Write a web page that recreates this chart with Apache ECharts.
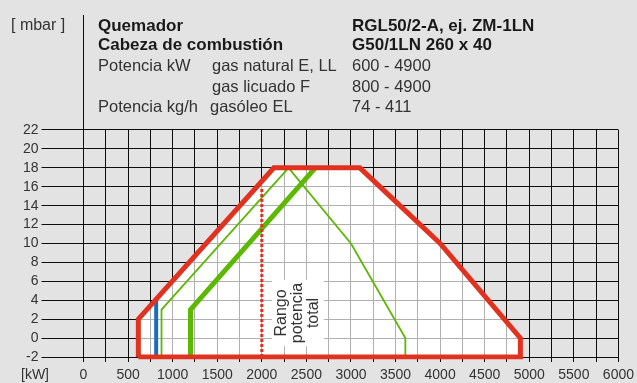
<!DOCTYPE html>
<html><head><meta charset="utf-8">
<script src="https://cdn.jsdelivr.net/npm/echarts@6/dist/echarts.min.js"></script>
<style>html,body{margin:0;padding:0;background:#e3e3e3}#c{width:637px;height:383px}</style>
</head><body><div id="c"></div>
<script>
// ---- data ----
const envelopeX = [615, 615, 2135, 3100, 4000, 4900, 4900, 615];
const envelopeY = [-2, 2, 18, 18, 10, 0, -2, -2];
const blueX = [815, 815];
const blueY = [-2, 4];
const thinGreenX = [875, 875, 2300, 3000, 3610, 3610];
const thinGreenY = [-2, 3, 18, 10, 0, -2];
const thickGreenX = [1200, 1200, 2600];
const thickGreenY = [-2, 3, 18];
const rangeX = [2000, 2000];
const rangeY = [-2, 16];
const xMin = 0, xMax = 6000, xGridStep = 250, xLabelStep = 500;
const yMin = -2, yMax = 22, yStep = 2;
const yUnit = '[ mbar ]';
const xUnit = '[kW]';
const rangeLabel = 'Rango\npotencia\ntotal';
const headerCol1 = ['Quemador', 'Cabeza de combustión', 'Potencia kW', '', 'Potencia kg/h'];
const headerCol2 = ['', '', 'gas natural E, LL', 'gas licuado F', 'gasóleo EL'];
const headerCol3 = ['RGL50/2-A, ej. ZM-1LN', 'G50/1LN 260 x 40', '600 - 4900', '800 - 4900', '74 - 411'];

const pairs = (xs, ys) => xs.map((x, i) => [x, ys[i]]);
const envelope = pairs(envelopeX, envelopeY);

// span of the envelope along a grid line (axis 0: vertical line x=c, axis 1: horizontal line y=c)
function spanAt(axis, c) {
  const o = axis, p = 1 - axis;
  let lo = Infinity, hi = -Infinity;
  for (let i = 0; i < envelope.length - 1; i++) {
    const a = envelope[i], b = envelope[i + 1];
    if ((c - a[o]) * (c - b[o]) > 0) continue;
    if (a[o] === b[o]) { lo = Math.min(lo, a[p], b[p]); hi = Math.max(hi, a[p], b[p]); continue; }
    const t = (c - a[o]) / (b[o] - a[o]);
    const v = a[p] + t * (b[p] - a[p]);
    lo = Math.min(lo, v); hi = Math.max(hi, v);
  }
  return lo < hi ? [lo, hi] : null;
}
const snap = v => Math.round(v - 0.5) + 0.5;

const FONT = 'Liberation Sans';
const RED = '#e1311f', GREEN = '#5cb800', BLUE = '#1c6db5';
const GRIDC = '#0d0d0d', INNERC = '#b0b0b0';
const rowY = [26, 45.5, 66, 87, 107];
const col2X = [212, 212, 212, 212, 210];

const graphics = [
  {type:'line', shape:{x1:83.5, y1:15, x2:83.5, y2:130}, style:{stroke:GRIDC, lineWidth:1}},
  {type:'text', x:11, y:26, style:{text:yUnit, font:'16px ' + FONT, fill:'#333', verticalAlign:'middle'}},
  {type:'text', x:21, y:375, style:{text:xUnit, font:'14px ' + FONT, fill:'#333', verticalAlign:'middle'}},
  {type:'text', x:298, y:313, rotation:Math.PI/2, z:100,
   style:{text:rangeLabel, font:'16px ' + FONT, fill:'#333', align:'center', verticalAlign:'middle',
          lineHeight:16, backgroundColor:'#ffffff', padding:[2,3,2,3]}}
];
for (let i = 0; i < 5; i++) {
  const bold = i < 2;
  const f = (bold ? 'bold 17px ' : '16.5px ') + FONT;
  const col = bold ? '#1a1a1a' : '#333';
  if (headerCol1[i]) graphics.push({type:'text', x:98, y:rowY[i], style:{text:headerCol1[i], font:f, fill:col, verticalAlign:'middle'}});
  if (headerCol2[i]) graphics.push({type:'text', x:col2X[i], y:rowY[i], style:{text:headerCol2[i], font:f, fill:col, verticalAlign:'middle'}});
  if (headerCol3[i]) graphics.push({type:'text', x:352, y:rowY[i], style:{text:headerCol3[i], font:f, fill:col, verticalAlign:'middle'}});
}

function gridLines(api, spanFn, color, tickX, tickY) {
  const out = [];
  for (let x = xMin; x <= xMax; x += xGridStep) {
    const s = spanFn(0, x); if (!s) continue;
    const a = api.coord([x, s[0]]), b = api.coord([x, s[1]]);
    const sx = snap(a[0]);
    out.push({type:'line', shape:{x1:sx, y1:a[1] + tickY, x2:sx, y2:b[1]}, style:{stroke:color, lineWidth:1}});
  }
  for (let y = yMin; y <= yMax; y += yStep) {
    const s = spanFn(1, y); if (!s) continue;
    const a = api.coord([s[0], y]), b = api.coord([s[1], y]);
    const sy = snap(a[1]);
    out.push({type:'line', shape:{x1:a[0] - tickX, y1:sy, x2:b[0], y2:sy}, style:{stroke:color, lineWidth:1}});
  }
  return out;
}
const fullSpan = axis => (axis === 0 ? [yMin, yMax] : [xMin, xMax]);

const chart = echarts.init(document.getElementById('c'), null, {renderer:'canvas'});
chart.setOption({
  animation:false,
  backgroundColor:'#e3e3e3',
  grid:{left:83.5, right:17, top:130, bottom:26},
  xAxis:{type:'value', min:xMin, max:xMax, interval:xGridStep,
    axisLine:{show:false}, axisTick:{show:false}, splitLine:{show:false},
    axisLabel:{fontFamily:FONT, fontSize:14, color:'#333', margin:11, interval:0, hideOverlap:false,
      formatter:v => (v % xLabelStep === 0 ? String(v) : '')}},
  yAxis:{type:'value', min:yMin, max:yMax, interval:yStep,
    axisLine:{show:false}, axisTick:{show:false}, splitLine:{show:false},
    axisLabel:{fontFamily:FONT, fontSize:14, color:'#333', margin:45, formatter:v => String(v)}},
  graphic:graphics,
  series:[
    {type:'custom', z:0, silent:true, data:[0], clip:false,
     renderItem:(params, api) => ({type:'group', children:gridLines(api, (ax, c) => fullSpan(ax), GRIDC, 42, 5)})},
    {type:'custom', z:1, silent:true, data:[0], clip:false,
     renderItem:(params, api) => {
       const pts = envelope.map(p => api.coord(p));
       const children = [{type:'polygon', shape:{points:pts}, style:{fill:'#ffffff', stroke:null}}]
         .concat(gridLines(api, spanAt, INNERC, 0, 0));
       return {type:'group', children};
     }},
    {type:'line', z:2, symbol:'none', data:pairs(blueX, blueY), lineStyle:{color:BLUE, width:4, cap:'butt'}},
    {type:'line', z:2, symbol:'none', data:pairs(thinGreenX, thinGreenY), lineStyle:{color:GREEN, width:1.8, join:'miter'}},
    {type:'line', z:2, symbol:'none', data:pairs(thickGreenX, thickGreenY), lineStyle:{color:GREEN, width:5, join:'miter'}},
    {type:'line', z:3, symbol:'none', data:pairs(rangeX, rangeY), lineStyle:{color:RED, width:3, type:[3,2], cap:'butt'}},
    {type:'line', z:4, symbol:'none', data:envelope, lineStyle:{color:RED, width:5, join:'miter'}}
  ]
});
</script></body></html>
